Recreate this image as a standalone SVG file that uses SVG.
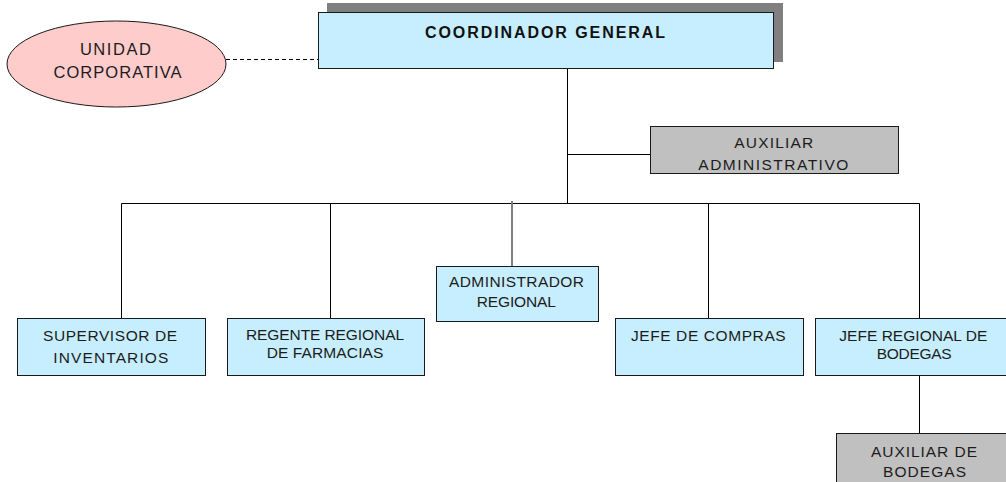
<svg xmlns="http://www.w3.org/2000/svg" width="1006" height="482" viewBox="0 0 1006 482">
  <style>
    .box { fill: #c6eefe; stroke: #1a1a1a; stroke-width: 1; }
    .aux { fill: #c0c0c0; stroke: #1a1a1a; stroke-width: 1; }
    .shadow { fill: #808080; }
    .lbl { font-family: "Liberation Sans", Arial, sans-serif; font-size: 15.5px; fill: #1c1c1c; text-anchor: middle; }
    .big { font-size: 16.5px; }
    .title { font-size: 16px; font-weight: bold; fill: #111; }
    .line { stroke: #000; stroke-width: 1; fill: none; }
  </style>

  <!-- connectors -->
  <g id="connectors">
    <line class="line" x1="226" y1="59.5" x2="318" y2="59.5" stroke-dasharray="4 3"/>
    <line class="line" x1="567.5" y1="69" x2="567.5" y2="203.5"/>
    <line class="line" x1="567.5" y1="154.5" x2="650" y2="154.5"/>
    <line class="line" x1="121.5" y1="203.5" x2="919.5" y2="203.5"/>
    <line class="line" x1="121.5" y1="203.5" x2="121.5" y2="318"/>
    <line class="line" x1="330.5" y1="203.5" x2="330.5" y2="318"/>
    <line x1="512" y1="201" x2="512" y2="266" stroke="#808080" stroke-width="2"/>
    <line class="line" x1="708.5" y1="203.5" x2="708.5" y2="318"/>
    <line class="line" x1="919.5" y1="203.5" x2="919.5" y2="318"/>
    <line class="line" x1="919.5" y1="376" x2="919.5" y2="433"/>
  </g>

  <!-- corporate unit -->
  <g id="unidad-corporativa">
    <ellipse cx="116.5" cy="64" rx="109.5" ry="43" fill="#ffcccc" stroke="#1a1a1a" stroke-width="1"/>
    <text class="lbl big" x="115.4" y="55" textLength="71" lengthAdjust="spacing">UNIDAD</text>
    <text class="lbl big" x="117.5" y="78" textLength="128" lengthAdjust="spacing">CORPORATIVA</text>
  </g>

  <!-- general coordinator -->
  <g id="coordinador-general">
    <rect class="shadow" x="327" y="3" width="456" height="59"/>
    <rect class="box" x="318.5" y="12.5" width="455" height="56"/>
    <text class="lbl title" x="545" y="37.7" textLength="240" lengthAdjust="spacing">COORDINADOR GENERAL</text>
  </g>

  <!-- administrative assistant -->
  <g id="auxiliar-administrativo">
    <rect class="aux" x="650.5" y="126.5" width="248" height="47"/>
    <text class="lbl" x="773.8" y="147.7" textLength="79" lengthAdjust="spacing">AUXILIAR</text>
    <text class="lbl" x="773.3" y="170" textLength="150" lengthAdjust="spacing">ADMINISTRATIVO</text>
  </g>

  <!-- inventory supervisor -->
  <g id="supervisor-inventarios">
    <rect class="box" x="17.5" y="318.5" width="188" height="57"/>
    <text class="lbl" x="110" y="340.7" textLength="134" lengthAdjust="spacing">SUPERVISOR DE</text>
    <text class="lbl" x="110.8" y="362.7" textLength="115" lengthAdjust="spacing">INVENTARIOS</text>
  </g>

  <!-- regional pharmacy regent -->
  <g id="regente-regional">
    <rect class="box" x="227.5" y="318.5" width="197" height="57"/>
    <text class="lbl" x="325" y="340" textLength="158" lengthAdjust="spacing">REGENTE REGIONAL</text>
    <text class="lbl" x="325" y="358.3" textLength="116.7" lengthAdjust="spacing">DE FARMACIAS</text>
  </g>

  <!-- regional administrator -->
  <g id="administrador-regional">
    <rect class="box" x="436.5" y="266.5" width="162" height="55"/>
    <text class="lbl" x="516.5" y="287.3" textLength="135" lengthAdjust="spacing">ADMINISTRADOR</text>
    <text class="lbl" x="516.3" y="306.7" textLength="79.3" lengthAdjust="spacing">REGIONAL</text>
  </g>

  <!-- purchasing head -->
  <g id="jefe-compras">
    <rect class="box" x="615.5" y="318.5" width="188" height="57"/>
    <text class="lbl" x="708.3" y="341" textLength="154.7" lengthAdjust="spacing">JEFE DE COMPRAS</text>
  </g>

  <!-- regional warehouse head -->
  <g id="jefe-bodegas">
    <rect class="box" x="815.5" y="318.5" width="200" height="57"/>
    <text class="lbl" x="913.3" y="341" textLength="148" lengthAdjust="spacing">JEFE REGIONAL DE</text>
    <text class="lbl" x="914.2" y="359" textLength="75" lengthAdjust="spacing">BODEGAS</text>
  </g>

  <!-- warehouse assistant -->
  <g id="auxiliar-bodegas">
    <rect class="aux" x="836.5" y="433.5" width="180" height="60"/>
    <text class="lbl" x="924" y="457" textLength="106" lengthAdjust="spacing">AUXILIAR DE</text>
    <text class="lbl" x="924.5" y="476.7" textLength="83" lengthAdjust="spacing">BODEGAS</text>
  </g>
</svg>
